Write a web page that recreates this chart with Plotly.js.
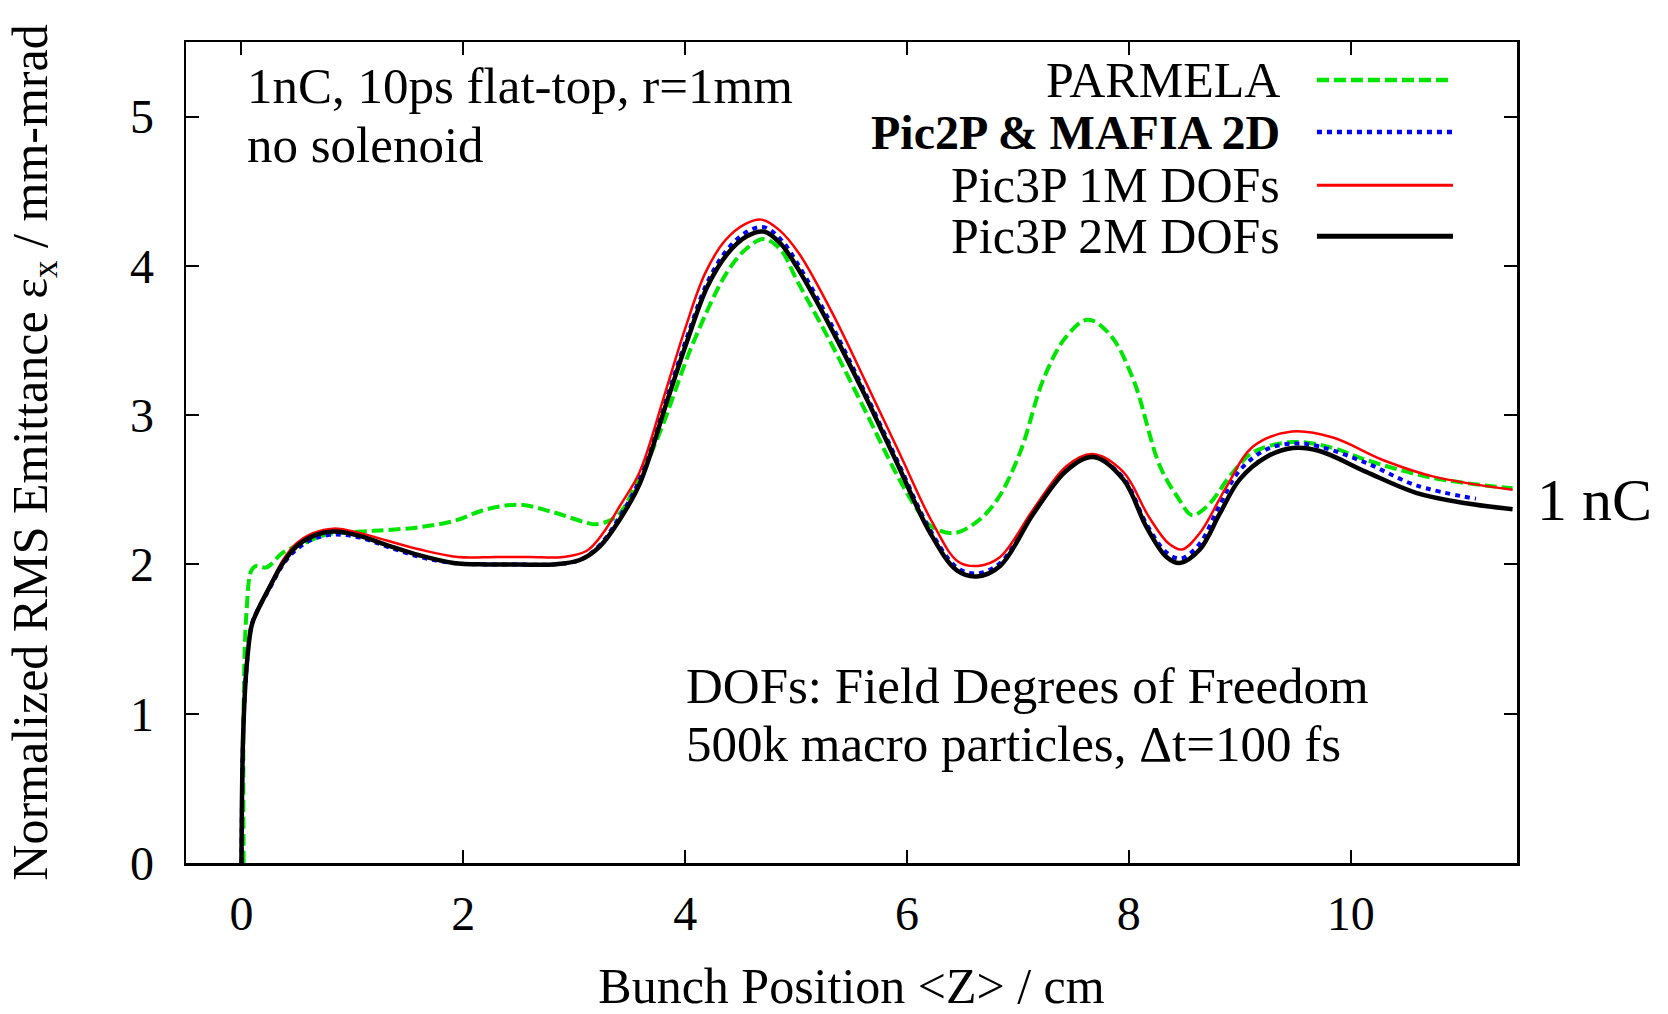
<!DOCTYPE html>
<html>
<head>
<meta charset="utf-8">
<script src="https://cdn.plot.ly/plotly-3.0.1.min.js"></script>
<style>html,body{margin:0;padding:0;background:#fff;}#chart{width:1668px;height:1014px;}</style>
</head>
<body>
<div id="chart"></div>
<script>
// Series names
const seriesNames = ["PARMELA", "Pic2P & MAFIA 2D", "Pic3P 1M DOFs", "Pic3P 2M DOFs"];

// PARMELA (green dashed)
const parmelaX = [0.02, 0.02, 0.045, 0.09, 0.135, 0.225, 0.375, 0.555, 0.765, 1.07, 1.31, 1.61, 1.91, 2.21, 2.51, 2.81, 3.11, 3.20, 3.38, 3.55, 3.77, 4.07, 4.38, 4.56, 4.71, 4.86, 5.01, 5.31, 5.61, 5.91, 6.09, 6.21, 6.42, 6.62, 6.81, 7.02, 7.23, 7.43, 7.63, 7.83, 8.04, 8.28, 8.45, 8.57, 8.72, 8.92, 9.12, 9.48, 9.84, 10.14, 10.74, 11.46];
const parmelaY = [0.0, 1.07, 1.675, 1.96, 1.99, 1.98, 2.08, 2.14, 2.20, 2.22, 2.23, 2.25, 2.29, 2.37, 2.40, 2.35, 2.28, 2.27, 2.32, 2.52, 2.88, 3.48, 3.96, 4.12, 4.18, 4.11, 3.90, 3.49, 3.05, 2.60, 2.37, 2.26, 2.21, 2.28, 2.43, 2.75, 3.24, 3.52, 3.64, 3.54, 3.24, 2.66, 2.44, 2.33, 2.40, 2.60, 2.75, 2.82, 2.78, 2.70, 2.58, 2.51];

// Pic2P & MAFIA 2D (blue dotted)
const pic2pX = [0.0, 0.015, 0.045, 0.09, 0.135, 0.255, 0.375, 0.495, 0.645, 0.83, 1.07, 1.31, 1.61, 1.91, 2.21, 2.5, 2.81, 3.05, 3.23, 3.41, 3.59, 3.84, 4.02, 4.20, 4.38, 4.56, 4.71, 4.86, 5.01, 5.31, 5.61, 5.91, 6.21, 6.45, 6.63, 6.84, 7.14, 7.44, 7.68, 7.95, 8.16, 8.34, 8.47, 8.64, 8.82, 9.00, 9.24, 9.48, 9.72, 10.14, 10.59, 11.13];
const pic2pY = [0.0, 0.85, 1.30, 1.59, 1.68, 1.84, 2.00, 2.10, 2.17, 2.20, 2.18, 2.12, 2.05, 2.01, 2.00, 2.00, 2.00, 2.03, 2.13, 2.32, 2.57, 3.13, 3.53, 3.89, 4.11, 4.23, 4.26, 4.18, 4.02, 3.62, 3.17, 2.70, 2.23, 1.98, 1.94, 2.01, 2.35, 2.64, 2.72, 2.58, 2.27, 2.08, 2.04, 2.14, 2.40, 2.63, 2.77, 2.81, 2.79, 2.68, 2.53, 2.44];

// Pic3P 1M DOFs (red solid)
const pic3p1mX = [0.0, 0.015, 0.045, 0.09, 0.135, 0.255, 0.375, 0.495, 0.645, 0.83, 1.07, 1.31, 1.61, 1.95, 2.3, 2.6, 2.9, 3.11, 3.26, 3.41, 3.59, 3.82, 4.0, 4.18, 4.36, 4.54, 4.69, 4.85, 5.03, 5.33, 5.63, 5.93, 6.23, 6.46, 6.64, 6.84, 7.14, 7.44, 7.67, 7.95, 8.18, 8.36, 8.48, 8.64, 8.88, 9.12, 9.47, 9.84, 10.29, 10.74, 11.46];
const pic3p1mY = [0.0, 0.85, 1.30, 1.585, 1.68, 1.86, 2.03, 2.14, 2.21, 2.24, 2.21, 2.16, 2.10, 2.05, 2.05, 2.05, 2.05, 2.09, 2.21, 2.39, 2.62, 3.15, 3.58, 3.95, 4.17, 4.28, 4.31, 4.24, 4.08, 3.68, 3.22, 2.75, 2.28, 2.02, 1.99, 2.05, 2.37, 2.66, 2.74, 2.62, 2.32, 2.14, 2.10, 2.21, 2.52, 2.79, 2.89, 2.85, 2.70, 2.59, 2.50];

// Pic3P 2M DOFs (black solid)
const pic3p2mX = [0.0, 0.015, 0.045, 0.09, 0.135, 0.255, 0.375, 0.495, 0.645, 0.83, 1.07, 1.31, 1.61, 1.91, 2.21, 2.5, 2.81, 3.05, 3.23, 3.41, 3.59, 3.84, 4.02, 4.20, 4.38, 4.56, 4.71, 4.86, 5.01, 5.31, 5.61, 5.91, 6.21, 6.45, 6.63, 6.84, 7.14, 7.44, 7.68, 7.95, 8.16, 8.34, 8.46, 8.64, 8.82, 9.00, 9.24, 9.48, 9.72, 10.14, 10.59, 11.04, 11.46];
const pic3p2mY = [0.0, 0.85, 1.30, 1.585, 1.675, 1.85, 2.01, 2.12, 2.19, 2.22, 2.19, 2.13, 2.06, 2.01, 2.00, 2.00, 2.00, 2.03, 2.12, 2.30, 2.54, 3.10, 3.50, 3.86, 4.08, 4.20, 4.23, 4.15, 3.99, 3.59, 3.15, 2.68, 2.21, 1.96, 1.92, 1.99, 2.34, 2.63, 2.72, 2.57, 2.25, 2.05, 2.01, 2.10, 2.34, 2.57, 2.72, 2.78, 2.76, 2.62, 2.48, 2.41, 2.37];

// Tick labels
const xTicks = [0, 2, 4, 6, 8, 10];
const yTicks = [0, 1, 2, 3, 4, 5];

const FONT = "Liberation Serif";

const styles = [
  {color: "#00e600", width: 4, dash: "12px,5px"},
  {color: "#0000ff", width: 4, dash: "5px,5px"},
  {color: "#ff0000", width: 2.5, dash: "solid"},
  {color: "#000000", width: 4.5, dash: "solid"}
];

const xs = [parmelaX, pic2pX, pic3p1mX, pic3p2mX];
const ys = [parmelaY, pic2pY, pic3p1mY, pic3p2mY];

const traces = seriesNames.map((n, i) => ({
  type: "scatter", mode: "lines", name: n, x: xs[i], y: ys[i],
  line: {color: styles[i].color, width: styles[i].width, dash: styles[i].dash, shape: "spline", smoothing: 1.0},
  showlegend: false, hoverinfo: "skip"
}));

const legRowsY = [0.9537, 0.8903, 0.8255, 0.7633];
const annotations = [
  {text: "1nC, 10ps flat-top, r=1mm", x: 0.0443, y: 0.947},
  {text: "no solenoid", x: 0.0443, y: 0.875},
  {text: "DOFs: Field Degrees of Freedom", x: 0.3745, y: 0.216},
  {text: "500k macro particles, \u0394t=100 fs", x: 0.3745, y: 0.1446}
].map(a => ({xref: "paper", yref: "paper", x: a.x, y: a.y, xanchor: "left", yanchor: "middle",
  text: a.text, showarrow: false, font: {family: FONT, size: 51, color: "#000"}}));

seriesNames.forEach((n, i) => {
  annotations.push({xref: "paper", yref: "paper", x: 0.8235, y: legRowsY[i], xanchor: "right", yanchor: "middle",
    text: i === 1 ? "<b>" + n.replace("&", "&amp;") + "</b>" : n, showarrow: false,
    font: {family: FONT, size: i === 1 ? 48 : 50, color: "#000"}});
});
annotations.push({xref: "paper", yref: "paper", x: 1.0135, y: 0.4423, xanchor: "left", yanchor: "middle",
  text: "1 nC", showarrow: false, font: {family: FONT, size: 60, color: "#000"}});

const shapes = seriesNames.map((n, i) => ({
  type: "line", xref: "paper", yref: "paper", x0: 0.8497, x1: 0.9519, y0: legRowsY[i], y1: legRowsY[i],
  line: {color: styles[i].color, width: styles[i].width + 0.5, dash: styles[i].dash}
}));

const axisCommon = {
  showline: true, linecolor: "#000", linewidth: 2.5, mirror: "allticks",
  ticks: "inside", ticklen: 13, tickwidth: 2, tickcolor: "#000",
  showgrid: false, zeroline: false,
  tickfont: {family: FONT, size: 48, color: "#000"}
};

const layout = {
  width: 1668, height: 1014,
  margin: {l: 186, r: 151, t: 42, b: 151, pad: 0},
  paper_bgcolor: "#fff", plot_bgcolor: "#fff",
  showlegend: false,
  xaxis: Object.assign({}, axisCommon, {
    range: [-0.5, 11.5], tickmode: "array", tickvals: xTicks, ticktext: xTicks.map(String),
    ticklabelstandoff: 7,
    title: {text: "Bunch Position &lt;Z&gt; / cm", font: {family: FONT, size: 50, color: "#000"}, standoff: 59}
  }),
  yaxis: Object.assign({}, axisCommon, {
    range: [0, 5.5], tickmode: "array", tickvals: yTicks, ticktext: yTicks.map(String),
    ticklabelstandoff: 20,
    title: {text: "Normalized RMS Emittance \u03b5<sub>x</sub> / mm-mrad", font: {family: FONT, size: 50, color: "#000"}, standoff: 67}
  }),
  annotations: annotations,
  shapes: shapes
};

Plotly.newPlot("chart", traces, layout, {staticPlot: true, displayModeBar: false});
</script>
</body>
</html>
